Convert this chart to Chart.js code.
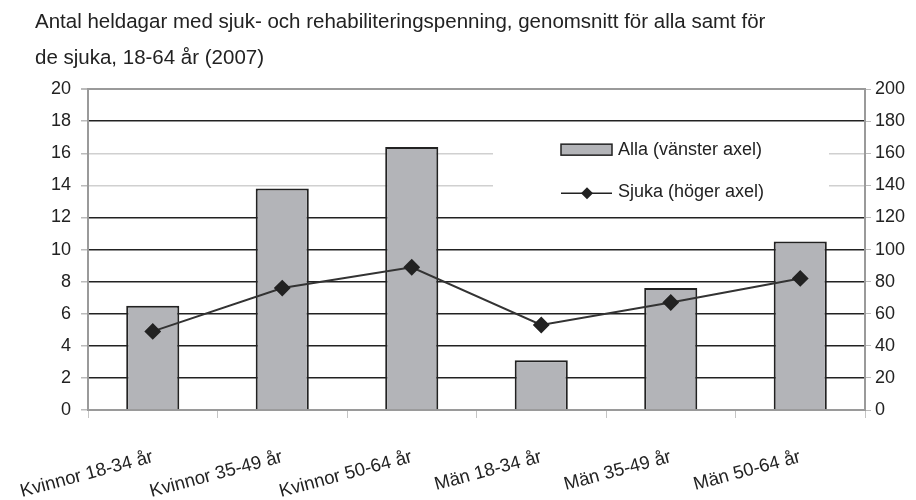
<!DOCTYPE html>
<html>
<head>
<meta charset="utf-8">
<script src="https://cdn.jsdelivr.net/npm/chart.js@4/dist/chart.umd.min.js"></script>
<style>
  html, body { margin: 0; padding: 0; background: #fff; }
  #wrap { width: 916px; height: 500px; }
</style>
</head>
<body>
<div id="wrap"><canvas id="chart" width="916" height="500"></canvas></div>
<script>
const categories = ['Kvinnor 18-34 år', 'Kvinnor 35-49 år', 'Kvinnor 50-64 år', 'Män 18-34 år', 'Män 35-49 år', 'Män 50-64 år'];
const allaValues = [6.5, 13.8, 16.4, 3.1, 7.6, 10.5];   // vänster axel
const sjukaValues = [49, 76, 89, 53, 67, 82];          // höger axel
const leftTicks = [0, 2, 4, 6, 8, 10, 12, 14, 16, 18, 20];
const rightTicks = [0, 20, 40, 60, 80, 100, 120, 140, 160, 180, 200];
const titleLines = ['Antal heldagar med sjuk- och rehabiliteringspenning, genomsnitt för alla samt för', 'de sjuka, 18-64 år (2007)'];

const FONT = "'Liberation Sans', Arial, sans-serif";
const barFill = '#b3b4b8';
const dark = '#222222';

// legend box drawn inside the plot, like the Excel original
const insideLegend = {
  id: 'insideLegend',
  afterDatasetsDraw(chart) {
    const { ctx, chartArea } = chart;
    const barSet = chart.data.datasets.find(d => d.type === 'bar');
    const lineSet = chart.data.datasets.find(d => d.type === 'line');
    const x0 = chartArea.left + 405;
    const y0 = chartArea.top + 36;
    ctx.save();
    ctx.fillStyle = '#fff';
    ctx.fillRect(x0, y0, 336, 88);

    // bar swatch
    ctx.fillStyle = barFill;
    ctx.strokeStyle = dark;
    ctx.lineWidth = 1.5;
    ctx.fillRect(x0 + 68, y0 + 19, 51, 11);
    ctx.strokeRect(x0 + 68, y0 + 19, 51, 11);

    // line swatch with diamond
    ctx.beginPath();
    ctx.moveTo(x0 + 68, y0 + 68);
    ctx.lineTo(x0 + 119, y0 + 68);
    ctx.lineWidth = 1.5;
    ctx.stroke();
    ctx.fillStyle = dark;
    ctx.beginPath();
    const cx = x0 + 94, cy = y0 + 68, r = 6;
    ctx.moveTo(cx, cy - r);
    ctx.lineTo(cx + r, cy);
    ctx.lineTo(cx, cy + r);
    ctx.lineTo(cx - r, cy);
    ctx.closePath();
    ctx.fill();

    ctx.fillStyle = dark;
    ctx.font = '18px ' + FONT;
    ctx.textBaseline = 'middle';
    ctx.textAlign = 'left';
    ctx.fillText(barSet.label, x0 + 125, y0 + 25);
    ctx.fillText(lineSet.label, x0 + 125, y0 + 67);
    ctx.restore();
  }
};

const ctx = document.getElementById('chart').getContext('2d');
new Chart(ctx, {
  data: {
    labels: categories,
    datasets: [
      {
        type: 'line',
        label: 'Sjuka (höger axel)',
        data: sjukaValues,
        yAxisID: 'y1',
        borderColor: '#333',
        borderWidth: 2,
        pointStyle: 'rectRot',
        pointRadius: 7,
        pointBackgroundColor: dark,
        pointBorderColor: dark,
        tension: 0,
        order: 0
      },
      {
        type: 'bar',
        label: 'Alla (vänster axel)',
        data: allaValues,
        yAxisID: 'y',
        backgroundColor: barFill,
        borderColor: dark,
        borderWidth: 2,
        categoryPercentage: 1,
        barPercentage: 0.41,
        order: 1
      }
    ]
  },
  options: {
    responsive: false,
    animation: false,
    layout: { padding: { left: 35, right: 0, top: 4, bottom: 0 } },
    plugins: {
      legend: { display: false },
      tooltip: { enabled: false },
      title: {
        display: true,
        text: titleLines,
        align: 'start',
        color: dark,
        font: { family: FONT, size: 20.5, weight: 'normal', lineHeight: 1.76 },
        padding: { top: 0, bottom: 13 }
      }
    },
    scales: {
      x: {
        grid: { display: true, drawOnChartArea: false, drawTicks: true, tickLength: 8, color: '#c4c4c4', offset: true },
        border: { color: '#9a9a9a', width: 2 },
        ticks: {
          color: dark,
          font: { family: FONT, size: 18.5 },
          minRotation: 15,
          maxRotation: 15,
          padding: 28,
          autoSkip: false
        },
        afterFit(scale) {
          scale.height = 90;
          scale.paddingLeft = 0;
          scale.paddingRight = 0;
        }
      },
      y: {
        position: 'left',
        min: 0,
        max: 20,
        afterBuildTicks(scale) { scale.ticks = leftTicks.map(v => ({ value: v })); },
        grid: {
          color(c) {
            const v = c.tick && c.tick.value;
            if (v === 20 || v === 0) return '#9a9a9a';
            if (v === 16 || v === 14) return '#d0d0d0';
            return dark;
          },
          tickColor: '#bbbbbb',
          tickLength: 7,
          lineWidth(c) { return (c.tick && (c.tick.value === 20)) ? 2 : 1.5; }
        },
        border: { color: '#9a9a9a', width: 2 },
        ticks: { color: dark, font: { family: FONT, size: 18 }, padding: 10 },
        afterFit(scale) { scale.width = 53; }
      },
      y1: {
        position: 'right',
        min: 0,
        max: 200,
        afterBuildTicks(scale) { scale.ticks = rightTicks.map(v => ({ value: v })); },
        grid: { drawOnChartArea: false, tickColor: '#bbbbbb', tickLength: 6 },
        border: { color: '#9a9a9a', width: 2 },
        ticks: { color: dark, font: { family: FONT, size: 18 }, padding: 4 },
        afterFit(scale) { scale.width = 51; }
      }
    }
  },
  plugins: [insideLegend]
});
</script>
</body>
</html>
